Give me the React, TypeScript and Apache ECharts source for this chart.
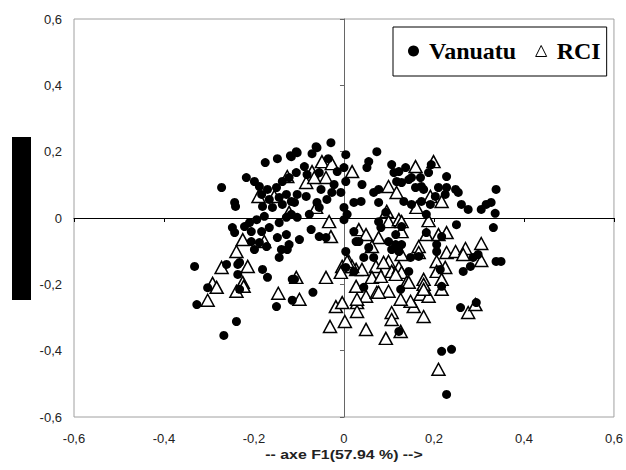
import React, { useEffect, useRef } from "react";
import * as echarts from "echarts";

const xTicks = { min: -0.6, max: 0.6, interval: 0.2 };
const yTicks = { min: -0.6, max: 0.6, interval: 0.2 };
const xAxisTitle = "-- axe F1(57.94 %) -->";
const seriesNames = ["Vanuatu", "RCI"];

const vanuatuPoints: number[][] = [
  [-0.272,0.092],[-0.243,0.047],[-0.241,0.035],[-0.175,0.167],[-0.148,0.179],[-0.119,0.188],[-0.104,0.197],[-0.071,0.194],[-0.062,0.215],[-0.217,0.122],[-0.199,0.110],[-0.188,0.095],[-0.170,0.086],[-0.150,0.092],[-0.137,0.110],[-0.122,0.122],[-0.183,0.071],[-0.166,0.056],[-0.144,0.062],[-0.128,0.071],[-0.181,0.035],[-0.159,0.032],[-0.137,0.041],[-0.117,0.050],[-0.177,0.005],[-0.194,-0.005],[-0.210,-0.014],[-0.221,-0.026],[-0.248,-0.029],[-0.243,-0.044],[-0.206,-0.041],[-0.183,-0.041],[-0.166,-0.029],[-0.144,-0.014],[-0.128,0.002],[-0.117,0.011],[-0.206,-0.071],[-0.188,-0.074],[-0.199,-0.095],[-0.172,-0.086],[-0.148,-0.059],[-0.128,-0.050],[-0.122,-0.080],[-0.144,-0.119],[-0.126,-0.095],[-0.332,-0.146],[-0.261,-0.140],[-0.236,-0.140],[-0.236,-0.170],[-0.181,-0.155],[-0.170,-0.179],[-0.115,-0.185],
  [-0.303,-0.210],[-0.327,-0.261],[-0.232,-0.215],[-0.239,-0.312],[-0.267,-0.354],[-0.150,-0.267],[-0.115,-0.248],
  [-0.029,0.227],[-0.060,0.212],[-0.106,0.200],[-0.117,0.185],[-0.035,0.179],[0.004,0.191],[0.073,0.200],[0.055,0.170],[0.051,0.152],[0.106,0.161],[0.122,0.140],[-0.088,0.155],[-0.106,0.137],[-0.082,0.131],[-0.015,0.140],[0.0,0.152],[0.004,0.110],[-0.022,0.101],[-0.051,0.086],[-0.084,0.065],[-0.110,0.047],[-0.104,0.071],[-0.060,0.047],[-0.055,0.032],[-0.027,0.077],[-0.007,0.077],[0.040,0.101],[0.066,0.077],[0.077,0.086],[0.022,0.047],[0.038,0.050],[0.077,0.047],[0.0,0.032],[0.007,0.011],[0.0,-0.005],[-0.104,0.002],[-0.077,0.011],[-0.073,-0.035],[-0.055,-0.056],[-0.040,-0.059],[-0.099,-0.065],[0.022,-0.041],[0.033,-0.071],[0.077,-0.011],[0.082,-0.029],[0.004,-0.101],[0.044,-0.119],[0.055,-0.089],[0.066,-0.119],[0.022,-0.161],[0.099,-0.071],[0.115,-0.050],[0.122,-0.101],[-0.110,-0.185],
  [0.137,0.152],[0.188,0.137],[0.194,0.161],[0.228,0.125],[0.150,0.122],[0.170,0.122],[0.128,0.107],[0.159,0.092],[0.172,0.095],[0.210,0.092],[0.228,0.092],[0.248,0.086],[0.254,0.077],[0.203,0.065],[0.225,0.071],[0.133,0.050],[0.150,0.041],[0.172,0.050],[0.192,0.041],[0.261,0.041],[0.276,0.026],[0.305,0.026],[0.316,0.041],[0.327,0.047],[0.338,0.086],[0.336,0.014],[0.183,0.011],[0.250,-0.020],[0.332,-0.029],[0.183,-0.044],[0.217,-0.056],[0.206,-0.080],[0.206,-0.101],[0.128,-0.026],[0.128,-0.080],[0.148,-0.119],[0.166,-0.116],[0.287,-0.119],[0.298,-0.110],[0.281,-0.146],[0.265,-0.161],[0.338,-0.131],[0.349,-0.131],[0.144,-0.161],[0.214,-0.155],
  [-0.069,-0.224],[0.122,-0.342],[0.259,-0.270],[0.294,-0.255],[0.217,-0.402],[0.239,-0.396],[0.228,-0.532],[0.217,-0.206],[0.126,-0.215],
  [0.027,-0.071],[0.106,-0.095],[0.115,-0.080],[0.004,-0.149],[0.044,-0.209],[-0.232,-0.134],[-0.139,-0.095],
  [0.111,0.137],[0.117,0.110],[0.144,0.116],[0.177,0.086],[0.093,0.017],[-0.055,0.137],[-0.038,0.056]
];

const rciPoints: number[][] = [
  [-0.190,0.065],[-0.126,0.125],[-0.155,0.065],[-0.225,-0.065],[-0.239,-0.101],[-0.272,-0.149],[-0.214,-0.146],[-0.292,-0.197],[-0.225,-0.194],[-0.122,0.017],[-0.084,0.107],[-0.071,0.140],[-0.049,0.170],[-0.027,0.164],[0.018,0.140],[-0.040,0.122],[-0.066,0.122],[-0.062,0.032],[-0.033,-0.011],[-0.029,-0.056],[0.099,0.095],[0.117,0.077],[0.095,0.020],[0.099,-0.011],[0.122,-0.005],[0.033,-0.035],[0.049,-0.050],[0.077,-0.059],[0.062,-0.086],[0.011,-0.131],[-0.004,-0.146],[0.027,-0.155],[0.040,-0.155],[0.071,-0.146],[0.062,-0.179],[-0.106,-0.179],[-0.040,-0.179],[0.099,-0.131],[0.106,-0.161],[0.122,-0.149],[0.159,0.155],[0.199,0.170],[0.192,0.065],[0.217,0.050],[0.161,0.032],[0.188,-0.008],[0.128,-0.011],[0.183,-0.050],[0.210,-0.050],[0.228,-0.044],[0.166,-0.086],[0.166,-0.104],[0.228,-0.104],[0.248,-0.101],[0.270,-0.092],[0.265,-0.110],[0.305,-0.077],[0.305,-0.128],[0.206,-0.131],[0.206,-0.161],[0.225,-0.149],[0.128,-0.041],[0.128,-0.110],[0.177,-0.185],[0.217,-0.185],[0.128,-0.164],[-0.283,-0.209],[-0.303,-0.248],[-0.239,-0.221],[-0.223,-0.206],[-0.146,-0.227],[-0.099,-0.245],[-0.018,-0.267],[-0.004,-0.255],[-0.031,-0.327],[0.002,-0.312],[0.029,-0.255],[0.029,-0.282],[0.049,-0.336],[0.093,-0.363],[0.106,-0.285],[0.106,-0.306],[0.126,-0.342],[0.049,-0.236],[0.073,-0.224],[0.099,-0.221],[0.027,-0.206],[0.276,-0.285],[0.292,-0.261],[0.210,-0.456],[0.177,-0.297],[0.155,-0.267],[0.148,-0.251],[0.170,-0.230],[0.188,-0.236],[0.217,-0.215],[0.177,-0.200],[0.139,-0.194],[0.126,-0.245],[0.082,-0.176],[0.088,-0.134],[0.115,-0.170],[0.144,-0.194],[0.177,-0.215],[0.077,-0.224],[0.029,-0.245],[0.018,-0.146],[-0.007,-0.164],[0.007,-0.131],[-0.177,-0.071]
];

const fmt = (v: number) => (Math.abs(v) < 1e-9 ? "0" : v.toFixed(1).replace(".", ","));

export default function App() {
  const ref = useRef<HTMLDivElement>(null);
  useEffect(() => {
    if (!ref.current) return;
    const chart = echarts.init(ref.current, null, { renderer: "svg" });
    const labelStyle = { color: "#222", fontFamily: "Arial, Liberation Sans", fontSize: 13 };
    chart.setOption({
      animation: false,
      backgroundColor: "#fff",
      grid: { left: 74, right: 10, top: 19, bottom: 53, show: true, borderColor: "#a0a0a0", borderWidth: 1 },
      legend: {
        left: 393,
        top: 27,
        orient: "horizontal",
        data: [
          { name: seriesNames[0], itemStyle: { color: "#000" } },
          { name: seriesNames[1], itemStyle: { color: "#fff", borderColor: "#000", borderWidth: 1 } },
        ],
        itemWidth: 11,
        itemHeight: 11,
        itemGap: 19,
        padding: [12, 6, 13, 15],
        borderColor: "#000",
        borderWidth: 1,
        textStyle: { fontFamily: "Liberation Serif, Times New Roman, serif", fontWeight: "bold", fontSize: 24, color: "#000", padding: [0, 0, 0, 5] },
      },
      xAxis: [
        {
          type: "value", min: xTicks.min, max: xTicks.max, interval: xTicks.interval, position: "bottom",
          axisLine: { show: false, onZero: false }, axisTick: { show: false }, splitLine: { show: false },
          axisLabel: { ...labelStyle, margin: 15, formatter: fmt },
        },
        {
          type: "value", min: xTicks.min, max: xTicks.max, interval: xTicks.interval, position: "bottom",
          axisLine: { show: true, onZero: true, onZeroAxisIndex: 0, lineStyle: { color: "#000", width: 1 } },
          axisTick: { show: true, length: 4, lineStyle: { color: "#000" } },
          axisLabel: { show: false }, splitLine: { show: false },
        },
      ],
      yAxis: [
        {
          type: "value", min: yTicks.min, max: yTicks.max, interval: yTicks.interval, position: "left",
          axisLine: { show: false, onZero: false }, axisTick: { show: false }, splitLine: { show: false },
          axisLabel: { ...labelStyle, margin: 12, formatter: fmt },
        },
        {
          type: "value", min: yTicks.min, max: yTicks.max, interval: yTicks.interval, position: "left",
          axisLine: { show: true, onZero: true, onZeroAxisIndex: 0, lineStyle: { color: "#666", width: 1 } },
          axisTick: { show: true, length: 4, lineStyle: { color: "#666" } },
          axisLabel: { show: false }, splitLine: { show: false },
        },
      ],
      graphic: [
        { type: "rect", left: 12, top: 137, shape: { width: 19, height: 163 }, style: { fill: "#000" } },
        {
          type: "text", x: 344, y: 455, scaleX: 1.22,
          style: { text: xAxisTitle, fill: "#222", font: "bold 13px Arial, 'Liberation Sans', sans-serif", textAlign: "center", textVerticalAlign: "middle" },
        },
      ],
      series: [
        {
          name: seriesNames[1], type: "scatter", xAxisIndex: 0, yAxisIndex: 0,
          symbol: "triangle", symbolSize: [13, 12],
          itemStyle: { color: "#fff", borderColor: "#000", borderWidth: 1.5, opacity: 1 },
          data: rciPoints,
        },
        {
          name: seriesNames[0], type: "scatter", xAxisIndex: 0, yAxisIndex: 0,
          symbol: "circle", symbolSize: 9,
          itemStyle: { color: "#000", opacity: 1 },
          data: vanuatuPoints,
        },
      ],
    });
    return () => chart.dispose();
  }, []);
  return <div ref={ref} style={{ position: "fixed", left: 0, top: 0, width: 626, height: 470 }} />;
}
